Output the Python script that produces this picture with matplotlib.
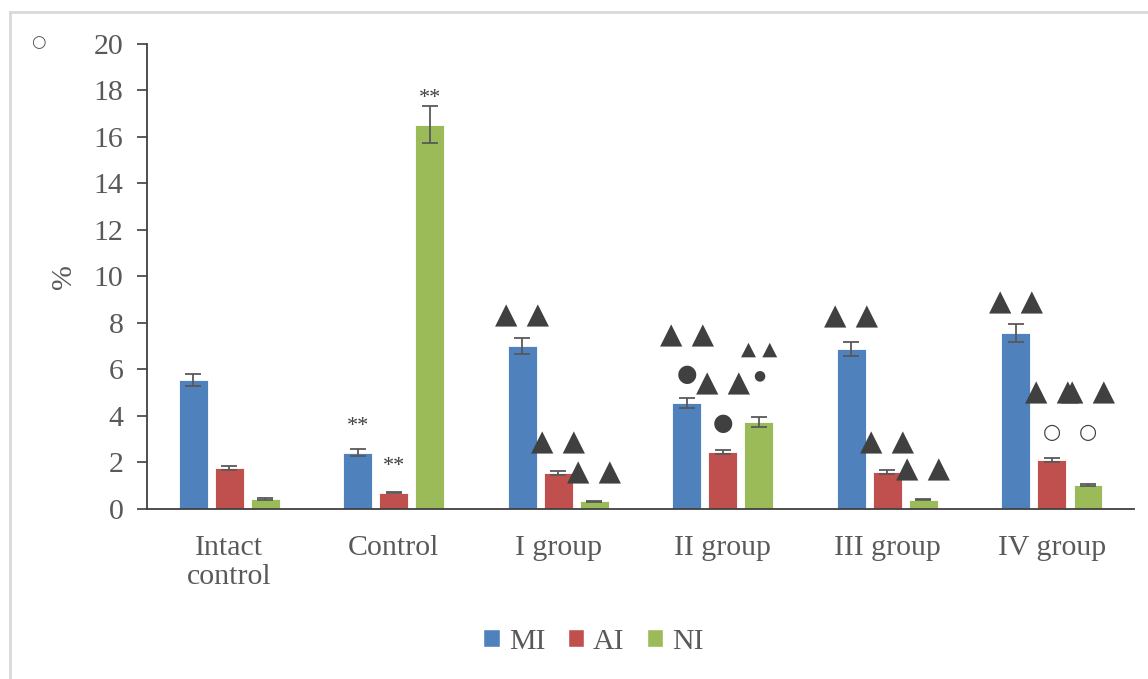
"""Mitotic, apoptotic and necrotic index by group."""

import matplotlib.pyplot as plt
import numpy as np
from matplotlib.lines import Line2D
from matplotlib.patches import Patch

groups = ["Intact\ncontrol", "Control", "I group", "II group", "III group", "IV group"]
series = ["MI", "AI", "NI"]
mi = [5.55, 2.41, 7.01, 4.56, 6.88, 7.57]
ai = [1.76, 0.70, 1.55, 2.45, 1.59, 2.10]
ni = [0.43, 16.52, 0.34, 3.74, 0.39, 1.03]
mi_err = [0.25, 0.15, 0.33, 0.22, 0.32, 0.39]
ai_err = [0.10, 0.03, 0.07, 0.08, 0.07, 0.10]
ni_err = [0.03, 0.80, 0.02, 0.20, 0.02, 0.06]

# significance marks: (group, series, text, y, size)
marks = [
    (1, 0, "**", 3.53, 16), (1, 1, "**", 1.81, 16), (1, 2, "**", 17.63, 16),
    (2, 0, "▲ ▲", 8.34, 21), (2, 1, "▲ ▲", 2.84, 21), (2, 2, "▲ ▲", 1.59, 21),
    (3, 0, "▲ ▲", 7.48, 21), (3, 0, "●", 5.80, 17),
    (3, 1, "▲ ▲", 5.38, 21), (3, 1, "●", 3.70, 17),
    (3, 2, "▲ ▲", 6.88, 14), (3, 2, "●", 5.76, 10),
    (4, 0, "▲ ▲", 8.26, 21), (4, 1, "▲ ▲", 2.88, 21), (4, 2, "▲ ▲", 1.68, 21),
    (5, 0, "▲ ▲", 8.90, 21), (5, 1, "▲ ▲", 4.99, 21), (5, 2, "▲ ▲", 4.99, 21),
    (5, 1, "○", 3.31, 15), (5, 2, "○", 3.31, 15),
]

colors = ["#4F81BD", "#C0504D", "#9BBB59"]
text_gray = "#595959"
mark_gray = "#404040"

plt.rcParams["font.family"] = ["Liberation Serif", "DejaVu Sans"]

fig = plt.figure(figsize=(11.48, 6.79), dpi=100)
ax = fig.add_axes([0.128, 0.2504, 0.86, 0.685])

x = np.arange(len(groups))
offsets = [-0.219, 0.0, 0.219]
width = 0.176
for vals, errs, off, col in zip([mi, ai, ni], [mi_err, ai_err, ni_err], offsets, colors):
    ax.bar(x + off, vals, width, color=col, edgecolor="white", linewidth=0.6,
           yerr=errs, error_kw=dict(ecolor=text_gray, elinewidth=1.3, capsize=6, capthick=1.3))

for g, s, txt, y, size in marks:
    ax.text(x[g] + offsets[s], y, txt, ha="center", va="center", fontsize=size,
            color=mark_gray, family=["DejaVu Sans"] if txt != "**" else ["Liberation Serif"])

ax.set_xlim(-0.5, len(groups) - 0.5)
ax.set_ylim(0, 20)
ax.set_yticks(range(0, 21, 2))
ax.set_xticks(x)
ax.set_xticklabels(groups, linespacing=1.15)
ax.tick_params(axis="x", length=0, pad=19, labelsize=21.5, labelcolor=text_gray)
ax.tick_params(axis="y", length=7, width=1.2, color="#404040", pad=10,
               labelsize=21.5, labelcolor=text_gray)
ax.set_ylabel("%", fontsize=21.5, color=text_gray, labelpad=12)
for side in ["top", "right"]:
    ax.spines[side].set_visible(False)
for side in ["left", "bottom"]:
    ax.spines[side].set_color("#404040")
    ax.spines[side].set_linewidth(1.3)

handles = [Patch(facecolor=c, edgecolor="white") for c in colors]
fig.legend(handles, series, loc="center", bbox_to_anchor=(0.517, 0.055), ncol=3,
           frameon=False, fontsize=21.5, labelcolor=text_gray, handlelength=0.55,
           handleheight=0.55, handletextpad=0.3, columnspacing=0.75)

fig.text(0.033, 0.938, "○", fontsize=12, color=text_gray, ha="center", va="center",
         family=["DejaVu Sans"])

# light frame around the chart area
fig.add_artist(Line2D([0.0087, 1.0], [0.982, 0.982], color="#d9d9d9", lw=2))
fig.add_artist(Line2D([0.0087, 0.0087], [0.0, 0.982], color="#d9d9d9", lw=2))

fig.savefig("out.png", dpi=100)
